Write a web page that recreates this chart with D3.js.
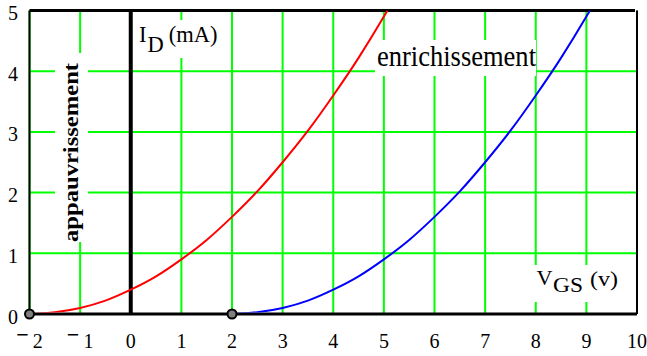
<!DOCTYPE html>
<html>
<head>
<meta charset="utf-8">
<script src="https://cdn.jsdelivr.net/npm/d3@7"></script>
<style>
  html, body { margin: 0; padding: 0; background: #fff; }
  svg { display: block; }
</style>
</head>
<body>
<svg id="chart" width="647" height="356"></svg>
<script>
// Transfer characteristics I_D = f(V_GS) of two MOSFETs
const xTicks = [-2, -1, 0, 1, 2, 3, 4, 5, 6, 7, 8, 9, 10];
const yTicks = [0, 1, 2, 3, 4, 5];

// depletion-mode device (red), threshold at -2 V
const vgsDepletion = [-2, -1.5, -1, -0.5, 0, 0.5, 1, 1.5, 2, 2.5, 3, 3.5, 4, 4.5, 5, 5.07];
const idDepletion  = [0, 0.03, 0.1, 0.22, 0.4, 0.62, 0.9, 1.22, 1.6, 2.02, 2.5, 3.02, 3.6, 4.22, 4.9, 5.0];

// enhancement-mode device (blue), threshold at +2 V
const vgsEnhancement = [2, 2.5, 3, 3.5, 4, 4.5, 5, 5.5, 6, 6.5, 7, 7.5, 8, 8.5, 9, 9.07];
const idEnhancement  = [0, 0.03, 0.1, 0.22, 0.4, 0.62, 0.9, 1.22, 1.6, 2.02, 2.5, 3.02, 3.6, 4.22, 4.9, 5.0];

// threshold voltages marked on the axis
const thresholds = [-2, 2];

const SERIF = '"Liberation Serif", "Times New Roman", serif';
const GREEN = "#00ff00";

const svg = d3.select("#chart");
const x = d3.scaleLinear().domain([-2, 10]).range([29.5, 637]);
const y = d3.scaleLinear().domain([0, 5]).range([314, 10.5]);

// grid
const grid = svg.append("g");
grid.selectAll("line.v").data(xTicks).join("line")
  .attr("x1", d => x(d)).attr("x2", d => x(d))
  .attr("y1", y(5)).attr("y2", y(0))
  .attr("stroke", GREEN).attr("stroke-width", 2);
grid.selectAll("line.h").data(yTicks.slice(1, -1)).join("line")
  .attr("x1", x(-2)).attr("x2", x(10))
  .attr("y1", d => y(d)).attr("y2", d => y(d))
  .attr("stroke", GREEN).attr("stroke-width", 2);

// white label backgrounds
const boxes = [
  [55, 53, 33, 189],
  [375, 40, 161, 36],
  [134, 20, 92, 38],
  [530, 265, 92, 37]
];
svg.append("g").selectAll("rect").data(boxes).join("rect")
  .attr("x", d => d[0]).attr("y", d => d[1])
  .attr("width", d => d[2]).attr("height", d => d[3])
  .attr("fill", "#fff");

// frame
const frame = svg.append("g").attr("stroke", "#000");
frame.append("line").attr("x1", x(-2)).attr("x2", x(10) - 2).attr("y1", y(5)).attr("y2", y(5)).attr("stroke-width", 3);
frame.append("line").attr("x1", x(-2)).attr("x2", x(-2)).attr("y1", y(5)).attr("y2", y(0)).attr("stroke-width", 2);
frame.append("line").attr("x1", x(10)).attr("x2", x(10)).attr("y1", y(5)).attr("y2", y(0)).attr("stroke-width", 2);
frame.append("line").attr("x1", x(-2) - 2).attr("x2", x(10)).attr("y1", y(0)).attr("y2", y(0)).attr("stroke-width", 3);
frame.append("line").attr("x1", x(0)).attr("x2", x(0)).attr("y1", y(5)).attr("y2", y(0)).attr("stroke-width", 4);

// curves
svg.append("clipPath").attr("id", "plot")
  .append("rect").attr("x", x(-2)).attr("y", y(5)).attr("width", x(10) - x(-2)).attr("height", y(0) - y(5) - 1.5);
const line = d3.line().x(d => x(d[0])).y(d => y(d[1])).curve(d3.curveMonotoneX);
const curves = [
  { xs: vgsDepletion, ys: idDepletion, color: "#ff0000" },
  { xs: vgsEnhancement, ys: idEnhancement, color: "#0000ff" }
];
svg.append("g").attr("clip-path", "url(#plot)")
  .selectAll("path").data(curves).join("path")
  .attr("d", c => line(d3.zip(c.xs, c.ys)))
  .attr("fill", "none").attr("stroke", c => c.color).attr("stroke-width", 2);

// threshold markers
svg.append("g").selectAll("circle").data(thresholds).join("circle")
  .attr("cx", d => x(d)).attr("cy", y(0)).attr("r", 4.5)
  .attr("fill", "#7f7f7f").attr("stroke", "#000").attr("stroke-width", 2);

// y tick labels
svg.append("g").selectAll("text").data(yTicks).join("text")
  .style("font-family", SERIF)
  .attr("x", 13).attr("y", d => y(d) + 9.5)
  .attr("text-anchor", "middle").attr("font-size", 20)
  .text(d => d);

// x tick labels (minus sign raised)
const xl = svg.append("g").selectAll("text").data(xTicks).join("text")
  .style("font-family", SERIF)
  .attr("x", d => x(d)).attr("y", 348)
  .attr("text-anchor", "middle").attr("font-size", 20);
xl.each(function(d) {
  const t = d3.select(this);
  if (d < 0) {
    t.append("tspan").attr("dy", -6).attr("font-weight", "bold").attr("font-size", 22).text("\u2212");
    t.append("tspan").attr("dy", 6).attr("dx", 4).text(Math.abs(d));
  } else {
    t.text(d);
  }
});

// axis titles
const id = svg.append("text").style("font-family", SERIF)
  .attr("x", 139).attr("y", 41.5).attr("font-size", 22.5);
id.append("tspan").text("I");
id.append("tspan").attr("dy", 10).attr("dx", 1).text("D");
id.append("tspan").attr("dy", -10).attr("dx", 5).text("(mA)");

const vgs = svg.append("text").style("font-family", SERIF).attr("y", 285);
vgs.append("tspan").attr("x", 536.5).attr("font-size", 20)
  .attr("textLength", 16).attr("lengthAdjust", "spacingAndGlyphs").text("V");
vgs.append("tspan").attr("x", 553).attr("dy", 7).attr("font-size", 21)
  .attr("textLength", 30).attr("lengthAdjust", "spacingAndGlyphs").text("GS");
vgs.append("tspan").attr("x", 590).attr("dy", -6).attr("font-size", 20)
  .attr("textLength", 28).attr("lengthAdjust", "spacingAndGlyphs").text("(v)");

svg.append("text").style("font-family", SERIF)
  .attr("x", 377).attr("y", 65.5).attr("font-size", 30)
  .attr("textLength", 159).attr("lengthAdjust", "spacingAndGlyphs")
  .text("enrichissement");

svg.append("text").style("font-family", SERIF)
  .attr("transform", "translate(78,152.5) rotate(-90)")
  .attr("text-anchor", "middle").attr("font-size", 22).attr("font-weight", "bold")
  .attr("textLength", 179).attr("lengthAdjust", "spacingAndGlyphs")
  .text("appauvrissement");
</script>
</body>
</html>
